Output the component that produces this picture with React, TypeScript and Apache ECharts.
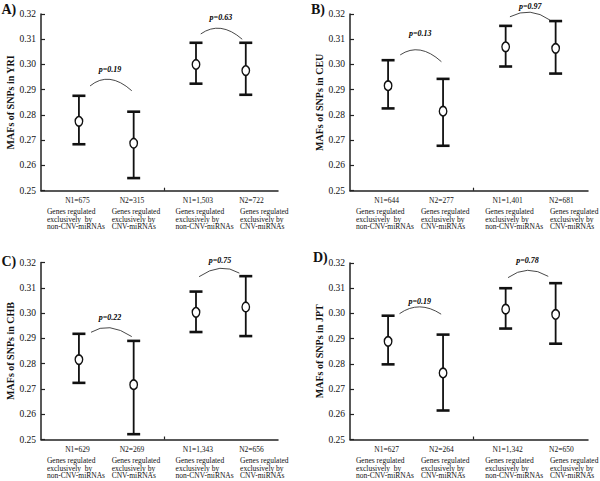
import React, { useEffect, useRef } from "react";
import * as echarts from "echarts";

// ---------------- data ----------------
const panelLetters = ["A)", "B)", "C)", "D)"];
const populations = ["YRI", "CEU", "CHB", "JPT"];
// x positions of the four groups on a 0–100 x axis
const groupX = [16.0, 39.1, 65.4, 86.4];
const yTicks = { min: 0.25, max: 0.32, step: 0.01 };

const meanYRI = [0.2775, 0.2688, 0.3, 0.2976];
const upperYRI = [0.2876, 0.2813, 0.3086, 0.3086];
const lowerYRI = [0.2684, 0.255, 0.2924, 0.288];

const meanCEU = [0.2916, 0.2815, 0.307, 0.3064];
const upperCEU = [0.3017, 0.2943, 0.3153, 0.3172];
const lowerCEU = [0.2826, 0.2678, 0.2992, 0.2964];

const meanCHB = [0.2816, 0.2717, 0.3003, 0.3024];
const upperCHB = [0.2918, 0.289, 0.3085, 0.3146];
const lowerCHB = [0.2724, 0.2521, 0.2925, 0.2909];

const meanJPT = [0.2889, 0.2764, 0.3017, 0.2996];
const upperJPT = [0.2991, 0.2916, 0.31, 0.312];
const lowerJPT = [0.2798, 0.2615, 0.294, 0.288];

const nYRI = ["N1=675", "N2=315", "N1=1,503", "N2=722"];
const nCEU = ["N1=644", "N2=277", "N1=1,401", "N2=681"];
const nCHB = ["N1=629", "N2=269", "N1=1,343", "N2=656"];
const nJPT = ["N1=627", "N2=264", "N1=1,342", "N2=650"];

const groupDescriptions = [
  "Genes regulated\nexclusively  by\nnon-CNV-miRNAs",
  "Genes regulated\nexclusively by\nCNV-miRNAs",
  "Genes regulated\nexclusively by\nnon-CNV-miRNAs",
  "Genes regulated\nexclusively by\nCNV-miRNAs",
];

const pYRI = ["0.19", "0.63"];
const pCEU = ["0.13", "0.97"];
const pCHB = ["0.22", "0.75"];
const pJPT = ["0.19", "0.78"];

const means = [meanYRI, meanCEU, meanCHB, meanJPT];
const uppers = [upperYRI, upperCEU, upperCHB, upperJPT];
const lowers = [lowerYRI, lowerCEU, lowerCHB, lowerJPT];
const nLabels = [nYRI, nCEU, nCHB, nJPT];
const pValues = [pYRI, pCEU, pCHB, pJPT];

// ---------------- layout (positions / styles) ----------------
const FONT = '"Liberation Serif", "Times New Roman", serif';
const INK = "#111";
const GRIDS = [
  { left: 41, top: 14, width: 237, height: 176.7 },
  { left: 350, top: 14, width: 238, height: 176.7 },
  { left: 41, top: 262.5, width: 237, height: 177 },
  { left: 350, top: 263, width: 238, height: 176.5 },
];
const LETTER_POS = [
  [1.5, 2],
  [311, 2],
  [1.5, 254],
  [313, 250],
];
// arcs in data coords: [x1, y1, xPeak, yPeak, x2, y2, textY]
const ARCS = [
  [
    [20.7, 0.2915, 29.1, 0.2941, 38.3, 0.2896, 0.2982],
    [67.4, 0.3121, 75.9, 0.3143, 84.9, 0.31, 0.3187],
  ],
  [
    [21.1, 0.3038, 29.5, 0.3057, 38.4, 0.3011, 0.3124],
    [67.2, 0.3189, 75.7, 0.3207, 84.0, 0.3176, 0.3229],
  ],
  [
    [21.1, 0.2924, 29.1, 0.2942, 38.3, 0.2907, 0.2982],
    [66.7, 0.3144, 75.5, 0.3177, 83.7, 0.3158, 0.3208],
  ],
  [
    [20.8, 0.2999, 29.3, 0.3026, 38.3, 0.2997, 0.3049],
    [66.4, 0.3142, 74.6, 0.3171, 83.3, 0.3147, 0.3208],
  ],
];
const N_LABEL_X = [15.4, 38.4, 66.2, 88.8];
const DESC_X = [2.5, 29.8, 56.8, 84.0];
const MID_TICK = 51.9;

function buildOption() {
  const grid: any[] = [];
  const xAxis: any[] = [];
  const yAxis: any[] = [];
  const series: any[] = [];

  for (let i = 0; i < 4; i++) {
    grid.push({ ...GRIDS[i], containLabel: false });
    xAxis.push({
      type: "value",
      gridIndex: i,
      min: 0,
      max: 100,
      axisLine: { show: true, lineStyle: { color: "#222", width: 1.5 } },
      axisTick: {
        show: true,
        inside: true,
        length: 3,
        customValues: [MID_TICK],
        lineStyle: { color: "#222", width: 1.2 },
      },
      axisLabel: { show: false },
      splitLine: { show: false },
    });
    yAxis.push({
      type: "value",
      gridIndex: i,
      min: yTicks.min,
      max: yTicks.max,
      interval: yTicks.step,
      name: `MAFs of SNPs in ${populations[i]}`,
      nameLocation: "middle",
      nameGap: 17,
      nameTextStyle: {
        fontFamily: FONT,
        fontWeight: "bold",
        fontSize: 10,
        color: INK,
      },
      axisLine: { show: true, lineStyle: { color: "#222", width: 1.5 } },
      axisTick: {
        show: true,
        inside: true,
        length: 4,
        lineStyle: { color: "#222", width: 1.2 },
      },
      axisLabel: {
        fontFamily: FONT,
        fontSize: 9.5,
        color: INK,
        margin: 5,
        formatter: (v: number) => v.toFixed(2),
      },
      splitLine: { show: false },
    });

    // error bars
    series.push({
      type: "custom",
      xAxisIndex: i,
      yAxisIndex: i,
      data: groupX.map((x, j) => [x, lowers[i][j], uppers[i][j]]),
      encode: { x: 0, y: [1, 2] },
      renderItem: (params: any, api: any) => {
        const x = api.value(0);
        const lo = api.coord([x, api.value(1)]);
        const hi = api.coord([x, api.value(2)]);
        const hw = 6.5;
        return {
          type: "group",
          children: [
            {
              type: "line",
              shape: { x1: lo[0], y1: lo[1], x2: hi[0], y2: hi[1] },
              style: { stroke: INK, lineWidth: 1.8 },
            },
            {
              type: "line",
              shape: { x1: hi[0] - hw, y1: hi[1], x2: hi[0] + hw, y2: hi[1] },
              style: { stroke: INK, lineWidth: 2.6 },
            },
            {
              type: "line",
              shape: { x1: lo[0] - hw, y1: lo[1], x2: lo[0] + hw, y2: lo[1] },
              style: { stroke: INK, lineWidth: 2.6 },
            },
          ],
        };
      },
      z: 2,
    });

    // means
    series.push({
      type: "scatter",
      xAxisIndex: i,
      yAxisIndex: i,
      data: groupX.map((x, j) => [x, means[i][j]]),
      symbol: "circle",
      symbolSize: [7.5, 9.5],
      itemStyle: { color: "#fff", borderColor: INK, borderWidth: 1.5, opacity: 1 },
      z: 3,
    });

    // p-value arcs
    series.push({
      type: "custom",
      xAxisIndex: i,
      yAxisIndex: i,
      data: ARCS[i].map((a) => a.slice(0, 6)),
      encode: { x: [0, 2, 4], y: [1, 3, 5] },
      renderItem: (params: any, api: any) => {
        const p0 = api.coord([api.value(0), api.value(1)]);
        const pk = api.coord([api.value(2), api.value(3)]);
        const p2 = api.coord([api.value(4), api.value(5)]);
        const cx = 2 * pk[0] - 0.5 * (p0[0] + p2[0]);
        const cy = 2 * pk[1] - 0.5 * (p0[1] + p2[1]);
        return {
          type: "bezierCurve",
          shape: { x1: p0[0], y1: p0[1], x2: p2[0], y2: p2[1], cpx1: cx, cpy1: cy },
          style: { stroke: "#333", lineWidth: 0.9, fill: "none" },
        };
      },
      z: 2,
    });
  }

  return {
    animation: false,
    backgroundColor: "#fff",
    grid,
    xAxis,
    yAxis,
    series,
  };
}

function buildTexts(chart: any) {
  const g: any[] = [];
  for (let i = 0; i < 4; i++) {
    const finder = { xAxisIndex: i, yAxisIndex: i };
    g.push({
      type: "text",
      left: LETTER_POS[i][0],
      top: LETTER_POS[i][1],
      style: {
        text: panelLetters[i],
        fill: INK,
        fontFamily: FONT,
        fontSize: 14,
        fontWeight: "bold",
      },
    });
    // p-value labels
    ARCS[i].forEach((a, k) => {
      const p = chart.convertToPixel(finder, [a[2], a[6]]);
      g.push({
        type: "text",
        x: p[0],
        y: p[1],
        style: {
          text: `p=${pValues[i][k]}`,
          fill: "#000",
          fontFamily: FONT,
          fontSize: 8,
          fontStyle: "italic",
          fontWeight: "bold",
          align: "center",
          verticalAlign: "middle",
        },
      });
    });
    // group labels
    for (let j = 0; j < groupX.length; j++) {
      const nPt = chart.convertToPixel(finder, [N_LABEL_X[j], yTicks.min]);
      const dPt = chart.convertToPixel(finder, [DESC_X[j], yTicks.min]);
      g.push({
        type: "text",
        x: nPt[0],
        y: nPt[1] + 10,
        style: {
          text: nLabels[i][j],
          fill: INK,
          fontFamily: FONT,
          fontSize: 7.5,
          align: "center",
          verticalAlign: "middle",
        },
      });
      g.push({
        type: "text",
        x: dPt[0],
        y: dPt[1] + 17,
        style: {
          text: groupDescriptions[j],
          fill: INK,
          fontFamily: FONT,
          fontSize: 7.5,
          lineHeight: 7.7,
          align: "left",
          verticalAlign: "top",
        },
      });
    }
  }
  return g;
}

export default function App() {
  const ref = useRef<HTMLDivElement>(null);
  useEffect(() => {
    if (!ref.current) return;
    const chart = echarts.init(ref.current, undefined, { renderer: "svg" });
    chart.setOption(buildOption() as any);
    chart.setOption({ graphic: buildTexts(chart) } as any);
    return () => chart.dispose();
  }, []);
  return (
    <div
      ref={ref}
      style={{ position: "absolute", left: 0, top: 0, width: 600, height: 481 }}
    />
  );
}
